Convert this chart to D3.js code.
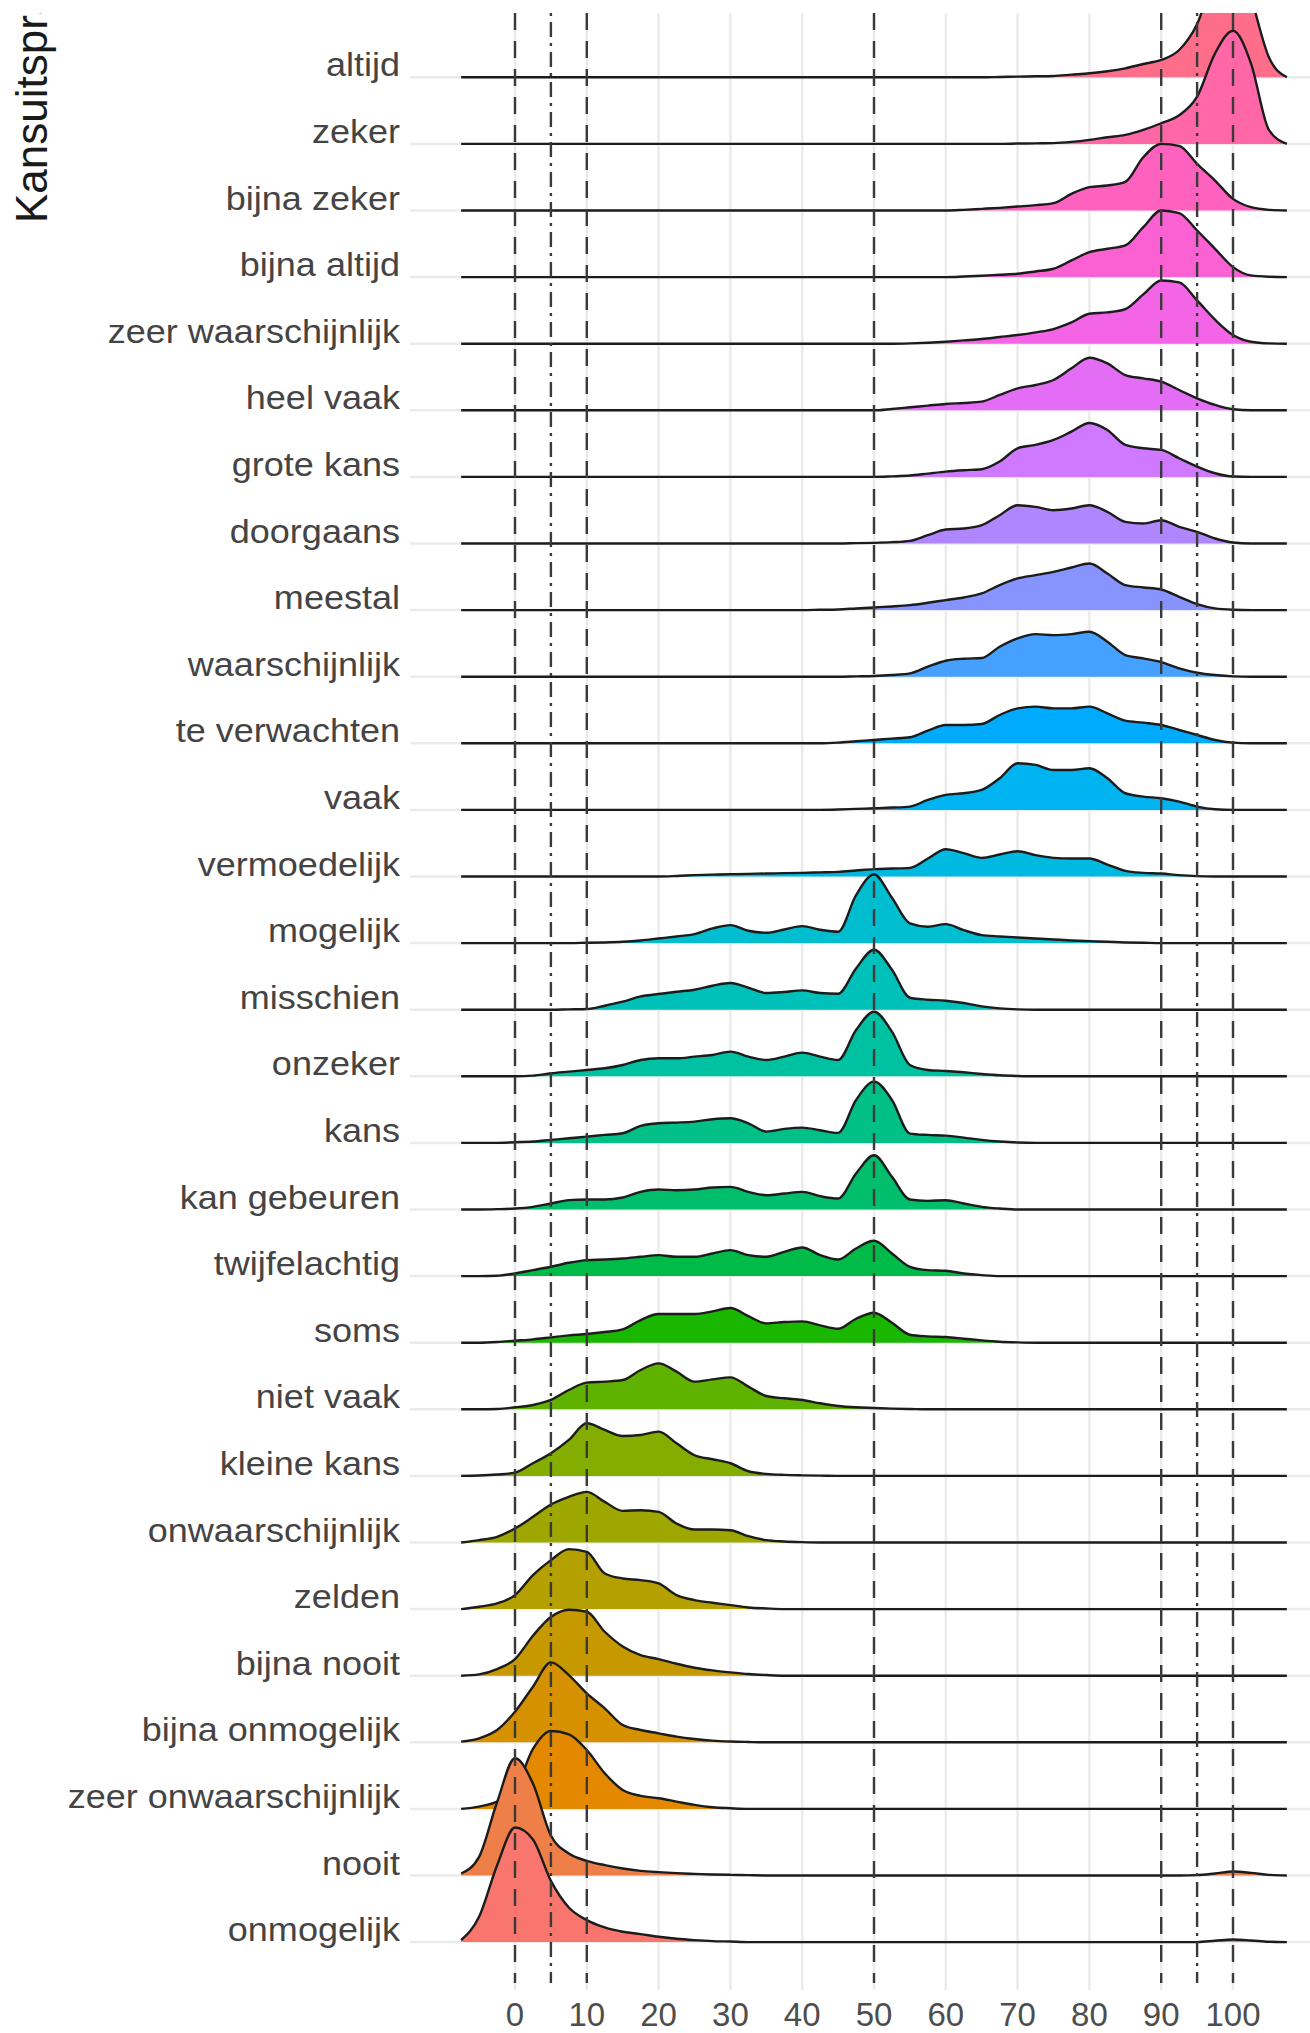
<!DOCTYPE html>
<html>
<head>
<meta charset="utf-8">
<script src="https://cdn.jsdelivr.net/npm/d3@7"></script>
<style>
  body { margin: 0; background: #fff; }
  text { font-family: "Liberation Sans", Arial, sans-serif; }
</style>
</head>
<body>
<div id="chart"></div>
<script>

// categories, top row first
var categories = ["altijd", "zeker", "bijna zeker", "bijna altijd", "zeer waarschijnlijk",
  "heel vaak", "grote kans", "doorgaans", "meestal", "waarschijnlijk", "te verwachten",
  "vaak", "vermoedelijk", "mogelijk", "misschien", "onzeker", "kans", "kan gebeuren",
  "twijfelachtig", "soms", "niet vaak", "kleine kans", "onwaarschijnlijk", "zelden",
  "bijna nooit", "bijna onmogelijk", "zeer onwaarschijnlijk", "nooit", "onmogelijk"];

var xTicks = [0, 10, 20, 30, 40, 50, 60, 70, 80, 90, 100];
var dashedLines = [0, 10, 50, 90, 100];
var dotdashLines = [5, 95];

var xGrid = [-7.5, -5, -2.5, 0, 2.5, 5, 7.5, 10, 12.5, 15, 17.5, 20, 22.5, 25, 27.5, 30,
  32.5, 35, 37.5, 40, 42.5, 45, 47.5, 50, 52.5, 55, 57.5, 60, 62.5, 65, 67.5, 70, 72.5,
  75, 77.5, 80, 82.5, 85, 87.5, 90, 92.5, 95, 97.5, 100, 102.5, 105, 107.5];

// density heights, in units of one row
var d_altijd = [0,0,0,0,0,0,0,0,0,0, 0,0,0,0,0,0,0,0,0,0, 0,0,0,0,0,0,0,0,0,0,
  .005,.01,.015,.02,.04,.06,.09,.135,.2,.26, .41,.8,1.55,1.95,1.2,.3,0];
var d_zeker = [0,0,0,0,0,0,0,0,0,0, 0,0,0,0,0,0,0,0,0,0, 0,0,0,0,0,0,0,0,0,0,
  0,.005,.008,.012,.03,.06,.1,.135,.21,.31, .43,.71,1.36,1.7,1.21,.21,0];
var d_bijnaZeker = [0,0,0,0,0,0,0,0,0,0, 0,0,0,0,0,0,0,0,0,0, 0,0,0,0,0,0,0,0,.01,.025,
  .04,.06,.08,.11,.25,.35,.375,.43,.8,1.0, .97,.7,.45,.175,.05,.01,0];
var d_bijnaAltijd = [0,0,0,0,0,0,0,0,0,0, 0,0,0,0,0,0,0,0,0,0, 0,0,0,0,0,0,0,0,.008,.02,
  .035,.05,.085,.125,.25,.375,.425,.475,.75,1.0, .96,.7,.425,.15,.025,.005,0];
var d_zeerWaarschijnlijk = [0,0,0,0,0,0,0,0,0,0, 0,0,0,0,0,0,0,0,0,0, 0,0,0,0,0,.005,.015,.03,.05,.07,
  .1,.13,.17,.22,.32,.45,.47,.52,.74,.95, .92,.65,.36,.13,.03,.005,0];
var d_heelVaak = [0,0,0,0,0,0,0,0,0,0, 0,0,0,0,0,0,0,0,0,0, 0,0,0,0,.02,.045,.07,.095,.11,.13,
  .23,.33,.38,.455,.63,.79,.705,.53,.48,.43, .305,.18,.08,.015,0,0,0];
var d_groteKans = [0,0,0,0,0,0,0,0,0,0, 0,0,0,0,0,0,0,0,0,0, 0,0,0,0,.008,.02,.05,.08,.1,.115,
  .23,.43,.48,.555,.68,.81,.705,.48,.43,.405, .28,.155,.055,.005,0,0,0];
var d_doorgaans = [0,0,0,0,0,0,0,0,0,0, 0,0,0,0,0,0,0,0,0,0, 0,0,.005,.01,.02,.04,.125,.21,.225,.275,
  .425,.575,.55,.5,.525,.575,.475,.325,.3,.35, .25,.175,.075,.015,0,0,0];
var d_meestal = [0,0,0,0,0,0,0,0,0,0, 0,0,0,0,0,0,0,0,0,0, .005,.01,.025,.04,.055,.075,.11,.15,.19,.25,
  .375,.475,.525,.575,.64,.7,.55,.375,.34,.31, .2,.09,.025,.005,0,0,0];
var d_waarschijnlijk = [0,0,0,0,0,0,0,0,0,0, 0,0,0,0,0,0,0,0,0,0, 0,0,.005,.01,.025,.05,.15,.24,.27,.28,
  .45,.575,.64,.625,.64,.675,.525,.325,.275,.22, .125,.06,.025,.005,0,0,0];
var d_teVerwachten = [0,0,0,0,0,0,0,0,0,0, 0,0,0,0,0,0,0,0,0,0, 0,.01,.03,.05,.07,.09,.19,.275,.275,.29,
  .425,.525,.55,.525,.525,.55,.45,.34,.31,.275, .2,.125,.05,.01,0,0,0];
var d_vaak = [0,0,0,0,0,0,0,0,0,0, 0,0,0,0,0,0,0,0,0,0, 0,.005,.015,.025,.035,.05,.15,.225,.25,.3,
  .475,.7,.675,.6,.6,.625,.475,.25,.2,.175, .125,.05,.01,0,0,0,0];
var d_vermoedelijk = [0,0,0,0,0,0,0,0,0,0, 0,0,.008,.02,.028,.035,.04,.045,.05,.055,
  .062,.07,.09,.11,.12,.13,.27,.41,.35,.28, .33,.38,.32,.28,.27,.27,.18,.085,.055,.045,
  .02,.005,0,0,0,0,0];
var d_mogelijk = [0,0,0,0,0,0,0,.005,.01,.02, .04,.07,.1,.135,.22,.27,.185,.155,.205,.255,
  .2,.17,.72,1.03,.68,.295,.245,.285,.195,.12, .1,.085,.07,.055,.04,.03,.02,.01,.005,0,
  0,0,0,0,0,0,0];
var d_misschien = [0,0,0,0,0,0,.005,.01,.06,.12, .2,.235,.27,.3,.36,.4,.33,.25,.265,.29,
  .25,.24,.62,.9,.6,.18,.15,.135,.1,.05, .02,.005,0,0,0,0,0,0,0,0, 0,0,0,0,0,0,0];
var d_onzeker = [0,0,0,0,.01,.045,.07,.095,.12,.17, .245,.27,.27,.295,.32,.37,.295,.245,.295,.355,
  .295,.245,.695,.97,.67,.17,.095,.08,.06,.035, .015,.005,0,0,0,0,0,0,0,0, 0,0,0,0,0,0,0];
var d_kans = [0,0,0,.01,.02,.045,.07,.095,.12,.145, .255,.295,.305,.32,.355,.37,.295,.17,.21,.23,
  .19,.15,.645,.92,.645,.14,.12,.11,.08,.045, .02,.005,0,0,0,0,0,0,0,0, 0,0,0,0,0,0,0];
var d_kanGebeuren = [0,0,.005,.015,.04,.09,.14,.15,.15,.18, .265,.3,.29,.3,.33,.34,.265,.215,.24,.265,
  .2,.165,.54,.815,.49,.15,.13,.14,.09,.04, .015,0,0,0,0,0,0,0,0,0, 0,0,0,0,0,0,0];
var d_twijfelachtig = [0,0,.005,.04,.09,.14,.2,.24,.25,.265, .29,.315,.29,.29,.34,.39,.315,.29,.365,.43,
  .315,.25,.415,.53,.34,.14,.09,.08,.04,.015, 0,0,0,0,0,0,0,0,0,0, 0,0,0,0,0,0,0];
var d_soms = [0,0,.01,.03,.05,.08,.11,.13,.16,.2, .34,.43,.43,.43,.47,.52,.4,.29,.31,.32,
  .26,.21,.36,.45,.3,.12,.095,.085,.06,.035, .015,.005,0,0,0,0,0,0,0,0, 0,0,0,0,0,0,0];
var d_nietVaak = [0,0,.005,.03,.065,.14,.29,.4,.415,.44, .59,.69,.565,.415,.45,.48,.34,.2,.165,.14,
  .09,.05,.03,.02,.01,.005,0,0,0,0, 0,0,0,0,0,0,0,0,0,0, 0,0,0,0,0,0,0];
var d_kleineKans = [0,.005,.02,.05,.19,.34,.54,.79,.69,.6, .615,.665,.49,.31,.25,.19,.07,.03,.015,.008,
  .004,0,0,0,0,0,0,0,0,0, 0,0,0,0,0,0,0,0,0,0, 0,0,0,0,0,0,0];
var d_onwaarschijnlijk = [0,.035,.085,.21,.385,.57,.685,.76,.61,.475, .485,.46,.285,.195,.195,.185,.095,.035,.015,.005,
  0,0,0,0,0,0,0,0,0,0, 0,0,0,0,0,0,0,0,0,0, 0,0,0,0,0,0,0];
var d_zelden = [0,.035,.085,.21,.51,.735,.9,.86,.535,.46, .435,.385,.21,.135,.095,.06,.025,.01,0,0,
  0,0,0,0,0,0,0,0,0,0, 0,0,0,0,0,0,0,0,0,0, 0,0,0,0,0,0,0];
var d_bijnaNooit = [0,.02,.1,.25,.6,.88,.99,.96,.66,.44, .31,.25,.18,.12,.08,.05,.025,.01,0,0,
  0,0,0,0,0,0,0,0,0,0, 0,0,0,0,0,0,0,0,0,0, 0,0,0,0,0,0,0];
var d_bijnaOnmogelijk = [.01,.06,.185,.46,.835,1.2,1.01,.735,.51,.26, .185,.135,.085,.05,.025,.012,.005,0,0,0,
  0,0,0,0,0,0,0,0,0,0, 0,0,0,0,0,0,0,0,0,0, 0,0,0,0,0,0,0];
var d_zeerOnwaarschijnlijk = [0,.035,.11,.285,.9,1.17,1.12,.885,.535,.285, .195,.16,.11,.06,.025,.01,0,0,0,0,
  0,0,0,0,0,0,0,0,0,0, 0,0,0,0,0,0,0,0,0,0, 0,0,0,0,0,0,0];
var d_nooit = [.03,.28,1.1,1.76,1.38,.6,.33,.22,.155,.105, .07,.05,.035,.025,.015,.01,.005,0,0,0,
  0,0,0,0,0,0,0,0,0,0, 0,0,0,0,0,0,0,0,0,0, 0,.005,.03,.06,.04,.01,0];
var d_onmogelijk = [.03,.38,1.15,1.72,1.54,.92,.52,.33,.22,.155, .12,.08,.05,.03,.015,.008,0,0,0,0,
  0,0,0,0,0,0,0,0,0,0, 0,0,0,0,0,0,0,0,0,0, 0,0,.02,.04,.025,.005,0];

var rows = [d_altijd, d_zeker, d_bijnaZeker, d_bijnaAltijd, d_zeerWaarschijnlijk,
  d_heelVaak, d_groteKans, d_doorgaans, d_meestal, d_waarschijnlijk, d_teVerwachten,
  d_vaak, d_vermoedelijk, d_mogelijk, d_misschien, d_onzeker, d_kans, d_kanGebeuren,
  d_twijfelachtig, d_soms, d_nietVaak, d_kleineKans, d_onwaarschijnlijk, d_zelden,
  d_bijnaNooit, d_bijnaOnmogelijk, d_zeerOnwaarschijnlijk, d_nooit, d_onmogelijk];

// ggplot style hue colours (polar LUV)
function hclColor(h, c, l) {
  var hr = h * Math.PI / 180;
  var u = c * Math.cos(hr), v = c * Math.sin(hr);
  var Xn = 95.047, Yn = 100, Zn = 108.883;
  var den = Xn + 15 * Yn + 3 * Zn;
  var un = 4 * Xn / den, vn = 9 * Yn / den;
  var Y = l > 8 ? Yn * Math.pow((l + 16) / 116, 3) : Yn * l / 903.3;
  var up = u / (13 * l) + un, vp = v / (13 * l) + vn;
  var X = 9 * Y * up / (4 * vp);
  var Z = -X / 3 - 5 * Y + 3 * Y / vp;
  X /= 100; Y /= 100; Z /= 100;
  var r = 3.240479 * X - 1.537150 * Y - 0.498535 * Z;
  var g = -0.969256 * X + 1.875992 * Y + 0.041556 * Z;
  var b = 0.055648 * X - 0.204043 * Y + 1.057311 * Z;
  function gam(t) {
    t = t <= 0.0031308 ? 12.92 * t : 1.055 * Math.pow(t, 1 / 2.4) - 0.055;
    return Math.round(255 * Math.max(0, Math.min(1, t)));
  }
  return d3.rgb(gam(r), gam(g), gam(b)).formatHex();
}

var width = 1310, height = 2033;

var svg = d3.select("#chart").append("svg")
    .attr("width", width)
    .attr("height", height);

svg.append("defs").append("clipPath").attr("id", "clip")
  .append("rect").attr("x", 0).attr("y", 13).attr("width", width).attr("height", height - 13);

var x = d3.scaleLinear().domain([0, 100]).range([515, 1233]);
var y = d3.scalePoint().domain(categories).range([77.3, 1942.1]);
var h = d3.scaleLinear().domain([0, 1]).range([0, y.step()]);

var n = categories.length;
var color = d3.scaleOrdinal()
  .domain(categories)
  .range(categories.map(function(c, i) { return hclColor(15 + (n - 1 - i) * 360 / n, 100, 65); }));

var plot = svg.append("g").attr("clip-path", "url(#clip)");

// grid
plot.selectAll(".vgrid").data(xTicks).enter().append("line")
  .attr("x1", function(d) { return x(d); }).attr("x2", function(d) { return x(d); })
  .attr("y1", 13).attr("y2", 1990)
  .attr("stroke", "#ebebeb").attr("stroke-width", 2.5);

plot.selectAll(".hgrid").data(categories).enter().append("line")
  .attr("x1", 410).attr("x2", width)
  .attr("y1", function(d) { return y(d); }).attr("y2", function(d) { return y(d); })
  .attr("stroke", "#ebebeb").attr("stroke-width", 2.5);

// ridges, top row first so lower rows overlap
categories.forEach(function(cat, i) {
  var base = y(cat);
  var area = d3.area()
    .x(function(d, j) { return x(xGrid[j]); })
    .y0(base)
    .y1(function(d) { return base - h(d); })
    .curve(d3.curveMonotoneX);
  var line = d3.line()
    .x(function(d, j) { return x(xGrid[j]); })
    .y(function(d) { return base - h(d); })
    .curve(d3.curveMonotoneX);

  plot.append("path").datum(rows[i])
    .attr("d", area)
    .attr("fill", color(cat));
  plot.append("path").datum(rows[i])
    .attr("d", line)
    .attr("fill", "none")
    .attr("stroke", "#1c1c1c")
    .attr("stroke-width", 2.4)
    .attr("stroke-linejoin", "round");
});

// reference lines
plot.selectAll(".dash").data(dashedLines).enter().append("line")
  .attr("x1", function(d) { return x(d); }).attr("x2", function(d) { return x(d); })
  .attr("y1", 13).attr("y2", 1983)
  .attr("stroke", "#3a3a3a").attr("stroke-width", 2.4)
  .attr("stroke-dasharray", "17,11");

plot.selectAll(".dotdash").data(dotdashLines).enter().append("line")
  .attr("x1", function(d) { return x(d); }).attr("x2", function(d) { return x(d); })
  .attr("y1", 13).attr("y2", 1983)
  .attr("stroke", "#3a3a3a").attr("stroke-width", 2.4)
  .attr("stroke-dasharray", "3,6,15,6");

// y axis title (cut off at the top like the reference)
plot.append("text")
  .attr("transform", "translate(47,223) rotate(-90)")
  .attr("font-size", 44)
  .attr("fill", "#1a1a1a")
  .text("Kansuitspraak");

// category labels (slightly wide, like the reference)
svg.selectAll(".ylab").data(categories).enter().append("text")
  .attr("transform", function(d) { return "translate(400," + (y(d) - 1) + ") scale(1.06,1)"; })
  .attr("text-anchor", "end")
  .attr("font-size", 34)
  .attr("fill", "#444")
  .text(function(d) { return d; });

// x tick labels
svg.selectAll(".xlab").data(xTicks).enter().append("text")
  .attr("x", function(d) { return x(d); })
  .attr("y", 2026)
  .attr("text-anchor", "middle")
  .attr("font-size", 33)
  .attr("fill", "#4d4d4d")
  .text(function(d) { return d; });

</script>
</body>
</html>
